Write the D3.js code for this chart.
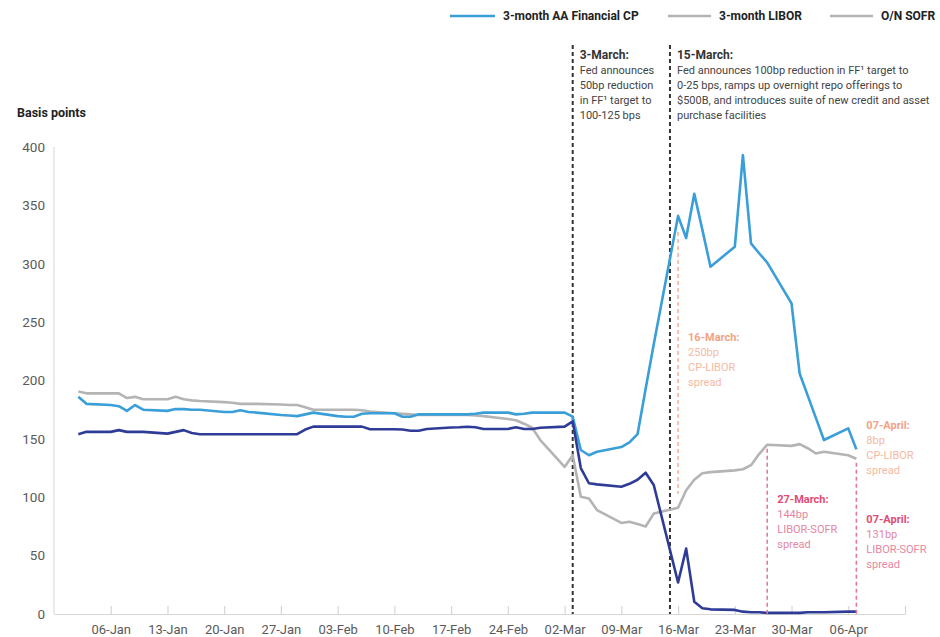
<!DOCTYPE html>
<html>
<head>
<meta charset="utf-8">
<script src="https://cdn.jsdelivr.net/npm/d3@7"></script>
<style>
  body { margin: 0; background: #fff; }
  svg text { font-family: Roboto, "Noto Sans", "Liberation Sans", sans-serif; }
</style>
</head>
<body>
<svg id="chart" width="940" height="637"></svg>
<script>
// Business days, 2 Jan – 7 Apr 2020
const dates = [
  "2020-01-02","2020-01-03","2020-01-06","2020-01-07","2020-01-08","2020-01-09","2020-01-10",
  "2020-01-13","2020-01-14","2020-01-15","2020-01-16","2020-01-17",
  "2020-01-20","2020-01-21","2020-01-22","2020-01-23","2020-01-24",
  "2020-01-27","2020-01-28","2020-01-29","2020-01-30","2020-01-31",
  "2020-02-03","2020-02-04","2020-02-05","2020-02-06","2020-02-07",
  "2020-02-10","2020-02-11","2020-02-12","2020-02-13","2020-02-14",
  "2020-02-17","2020-02-18","2020-02-19","2020-02-20","2020-02-21",
  "2020-02-24","2020-02-25","2020-02-26","2020-02-27","2020-02-28",
  "2020-03-02","2020-03-03","2020-03-04","2020-03-05","2020-03-06",
  "2020-03-09","2020-03-10","2020-03-11","2020-03-12","2020-03-13",
  "2020-03-16","2020-03-17","2020-03-18","2020-03-19","2020-03-20",
  "2020-03-23","2020-03-24","2020-03-25","2020-03-26","2020-03-27",
  "2020-03-30","2020-03-31","2020-04-01","2020-04-02","2020-04-03",
  "2020-04-06","2020-04-07"
];

// Basis points
const cpValues = [
  186, 180, 179, 178, 174, 179, 175,
  174, 175.5, 175.5, 175, 175,
  173, 173, 174.5, 173, 172.5,
  170.5, 170, 169.5, 171, 172.5,
  169.5, 169, 169, 171.5, 172,
  172, 169, 169, 171, 171,
  171, 171, 171, 171.5, 172.5,
  172.5, 171, 171.5, 172.5, 172.5,
  172.5, 169, 140.5, 136, 139,
  143, 147, 154, 193, 231,
  341, 322, 360, 329, 297.5,
  314.5, 393, 317.5, 309, 301,
  266, 206, 187, 168, 149,
  159, 141
];
const liborValues = [
  190.5, 189, 189, 189, 185, 186, 184,
  184, 186, 184, 183, 182.5,
  181.5, 181, 180, 180, 180,
  179.5, 179, 179, 177, 175,
  175, 175, 175, 174.5, 173.5,
  172, 171.5, 171, 170.5, 170.5,
  170.5, 170.5, 170.5, 170, 169.5,
  167, 166, 163, 159.5, 149,
  126, 136, 100.5, 99, 89,
  78, 79, 77, 75, 86,
  91, 106, 115, 120.5, 121.5,
  123, 124, 127.5, 137, 145,
  144, 145.5, 142, 137.5, 139,
  136, 133
];
const sofrValues = [
  154, 156, 156, 157.5, 156, 156, 156,
  154.5, 156, 157.5, 155, 154,
  154, 154, 154, 154, 154,
  154, 154, 154, 158, 160.5,
  160.5, 160.5, 160.5, 160.5, 158.2,
  158.2, 158, 157, 157, 158.5,
  159.8, 160, 160.4, 160, 158.5,
  158.5, 160, 158.5, 158.5, 159.5,
  160.5, 165, 125, 112, 111,
  109, 111.5, 115, 121, 110.5,
  27, 56, 10.5, 5, 4,
  3.5, 2, 1.5, 1.5, 1,
  1, 1, 1.5, 1.5, 1.5,
  2, 2
];

const seriesNames = ["3-month AA Financial CP", "3-month LIBOR", "O/N SOFR"];
const seriesColors = ["#3a9ed8", "#b4b4b4", "#2f3c97"];
const legendColors = ["#3a9ed8", "#b4b4b4", "#b4b4b4"];

const yTickValues = [0, 50, 100, 150, 200, 250, 300, 350, 400];
const xTickLabels = ["06-Jan","13-Jan","20-Jan","27-Jan","03-Feb","10-Feb","17-Feb",
                     "24-Feb","02-Mar","09-Mar","16-Mar","23-Mar","30-Mar","06-Apr"];
const yAxisTitle = "Basis points";

// Policy events
const eventDates = ["2020-03-03", "2020-03-15"];
const eventTitles = ["3-March:", "15-March:"];
const eventLines = [
  ["Fed announces", "50bp reduction", "in FF\u00b9 target to", "100-125 bps"],
  ["Fed announces 100bp reduction in FF\u00b9 target to",
   "0-25 bps, ramps up overnight repo offerings to",
   "$500B, and introduces suite of new credit and asset",
   "purchase facilities"]
];

// Spread call-outs
const spreadDates = ["2020-03-16", "2020-03-27", "2020-04-07", "2020-04-07"];
const spreadTitles = ["16-March:", "27-March:", "07-April:", "07-April:"];
const spreadValues = ["250bp", "144bp", "8bp", "131bp"];
const spreadNames = ["CP-LIBOR", "LIBOR-SOFR", "CP-LIBOR", "LIBOR-SOFR"];

// ---------------------------------------------------------------
const parse = d3.timeParse("%Y-%m-%d");
const svg = d3.select("#chart");

const x = d3.scaleTime()
  .domain([new Date(2019, 11, 30), new Date(2020, 3, 13)])
  .range([54, 905]);
const y = d3.scaleLinear().domain([0, 400]).range([614, 147]);

const rows = dates.map((d, i) => ({
  date: parse(d), cp: cpValues[i], libor: liborValues[i], sofr: sofrValues[i]
}));
const byDate = new Map(rows.map(r => [d3.timeFormat("%Y-%m-%d")(r.date), r]));

// y axis: plain rule plus labels
svg.append("line")
  .attr("x1", 54).attr("x2", 54).attr("y1", y(400)).attr("y2", y(0))
  .attr("stroke", "#dcdcdc").attr("stroke-width", 1.2);

const yAxis = d3.axisLeft(y).tickValues(yTickValues).tickSize(0).tickPadding(9);
const gy = svg.append("g").attr("transform", "translate(54,0)").call(yAxis);
gy.select(".domain").remove();
gy.selectAll("text").attr("fill", "#5a5a5a").style("font-size", "13.5px");

svg.append("text")
  .attr("x", 17).attr("y", 117)
  .attr("fill", "#222").style("font-size", "12.5px").style("font-weight", "700")
  .text(yAxisTitle);

// x axis with ticks pointing up
const mondays = d3.timeMonday.range(new Date(2020, 0, 6), new Date(2020, 3, 14));
const xAxis = d3.axisBottom(x)
  .tickValues(mondays)
  .tickSizeInner(-8).tickSizeOuter(0).tickPadding(11)
  .tickFormat((d, i) => xTickLabels[i] || "");
const gx = svg.append("g").attr("transform", `translate(0,${y(0)})`).call(xAxis);
gx.select(".domain").attr("stroke", "#d6d6d6").attr("stroke-width", 1.2);
gx.selectAll(".tick line").attr("stroke", "#d6d6d6").attr("stroke-width", 1.2);
gx.selectAll("text").attr("fill", "#5a5a5a").style("font-size", "13px");

// Event markers
eventDates.forEach((d, i) => {
  const ex = x(parse(d));
  svg.append("line")
    .attr("x1", ex).attr("x2", ex).attr("y1", 45).attr("y2", y(0))
    .attr("stroke", "#333").attr("stroke-width", 2).attr("stroke-dasharray", "4,3");
  const t = svg.append("text").attr("x", ex + 7).attr("y", 59)
    .attr("fill", "#333").style("font-size", "11px");
  t.append("tspan").attr("x", ex + 7).attr("dy", 0)
    .style("font-weight", "700").style("font-size", "12px").text(eventTitles[i]);
  eventLines[i].forEach(line => {
    t.append("tspan").attr("x", ex + 7).attr("dy", 15).attr("fill", "#444").text(line);
  });
});

// Series lines
const line = key => d3.line().x(d => x(d.date)).y(d => y(d[key]));
const keys = ["libor", "cp", "sofr"];
const colorByKey = { cp: seriesColors[0], libor: seriesColors[1], sofr: seriesColors[2] };
keys.forEach(k => {
  svg.append("path").datum(rows)
    .attr("fill", "none").attr("stroke", colorByKey[k])
    .attr("stroke-width", 2.6).attr("stroke-linejoin", "round")
    .attr("d", line(k));
});

// Spread call-outs
const salmonTitle = "#f3a285", salmonBody = "#f6b9a2";
const pinkTitle = "#de4c74", pinkBody = "#e6869f";
const spreadStyle = [
  { lineColor: "#f5b29b", title: salmonTitle, body: salmonBody, textY: 341, from: "cp", to: "libor" },
  { lineColor: "#e47a98", title: pinkTitle, body: pinkBody, textY: 503, from: "libor", to: "sofr" },
  { lineColor: null, title: salmonTitle, body: salmonBody, textY: 429 },
  { lineColor: "#e47a98", title: pinkTitle, body: pinkBody, textY: 523, from: "libor", to: "sofr" }
];
spreadDates.forEach((d, i) => {
  const st = spreadStyle[i];
  const r = byDate.get(d);
  const sx = x(r.date);
  if (st.lineColor) {
    const y1 = y(r[st.from]) + (st.from === "cp" ? 16 : 4);
    const y2 = st.to === "sofr" ? y(0) : y(r[st.to]) - 14;
    svg.append("line")
      .attr("x1", sx).attr("x2", sx).attr("y1", y1).attr("y2", y2)
      .attr("stroke", st.lineColor).attr("stroke-width", 1.6).attr("stroke-dasharray", "4,3");
  }
  const tx = sx + 10;
  const t = svg.append("text").attr("x", tx).attr("y", st.textY).style("font-size", "11px");
  t.append("tspan").attr("x", tx).attr("fill", st.title).style("font-weight", "700").text(spreadTitles[i]);
  t.append("tspan").attr("x", tx).attr("dy", 15).attr("fill", st.body).text(spreadValues[i]);
  t.append("tspan").attr("x", tx).attr("dy", 15).attr("fill", st.body).text(spreadNames[i]);
  t.append("tspan").attr("x", tx).attr("dy", 15).attr("fill", st.body).text("spread");
});

// Legend
const legendX = [450, 668, 830];
const lg = svg.append("g");
seriesNames.forEach((name, i) => {
  const lx = legendX[i];
  const len = i === 0 ? 45 : 43;
  lg.append("line").attr("x1", lx).attr("x2", lx + len).attr("y1", 16).attr("y2", 16)
    .attr("stroke", legendColors[i]).attr("stroke-width", 2.6);
  lg.append("text").attr("x", lx + len + 8).attr("y", 20)
    .attr("fill", "#222").style("font-size", "12px").style("font-weight", "700")
    .text(name);
});
</script>
</body>
</html>
